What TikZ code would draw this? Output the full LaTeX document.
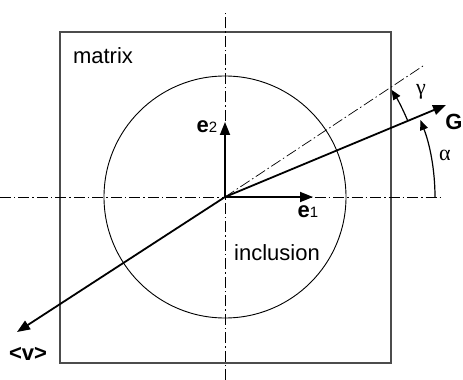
\documentclass[tikz,border=0pt]{standalone}
\usepackage{fontspec}
\setmainfont{Liberation Sans}
\newfontfamily\greekfont{Liberation Serif}
\usetikzlibrary{arrows.meta}

\begin{document}
\begin{tikzpicture}[x=1pt,y=1pt,
  axisline/.style={black,line width=0.9pt,dash pattern=on 11pt off 3pt on 1.5pt off 3pt},
  vecarrow/.style={line width=1.8pt,-{Triangle[length=13pt,width=10pt]}},
  anglearc/.style={line width=1.2pt,-{Triangle[length=10pt,width=8pt]}},
  lbl/.style={inner sep=0pt,font=\fontsize{22}{26}\selectfont}]
\path[use as bounding box] (-225,-183) rectangle (238,197);
\draw[black!70,line width=1.3pt] (-165,-166) rectangle (166,165);
\draw[line width=0.9pt] (0,0) circle (121);
\coordinate (O) at (0,0);
\coordinate (axT) at (0,187);
\coordinate (axB) at (0,-183);
\coordinate (axL) at (-225,0);
\coordinate (axR) at (218,0);
\coordinate (dd) at (198,131);
\draw[axisline] (axB) -- (axT);
\draw[axisline] (axL) -- (axR);
\draw[axisline,line width=0.7pt] (O) -- (dd);
\coordinate (e1tip) at (88,0);
\coordinate (e2tip) at (0,75);
\coordinate (Gtip) at (221,92);
\coordinate (vtip) at (-208,-135);
\draw[vecarrow] (O) -- (e1tip);
\draw[vecarrow] (O) -- (e2tip);
\draw[vecarrow] (O) -- (Gtip);
\draw[vecarrow] (O) -- (vtip);
\draw[anglearc] (210,0) arc[start angle=0,end angle=21.5,radius=210];
\draw[anglearc] ({198*cos(22.6)},{198*sin(22.6)}) arc[start angle=22.6,end angle=32.8,radius=198];
\node[lbl] (matrix) at (-122,141) {matrix};
\node[lbl] (inclusion) at (52,-56) {inclusion};
\node[lbl] (e1) at (83,-15) {\textbf{e}\fontsize{15}{18}\selectfont 1};
\node[lbl] (e2) at (-18,70) {\textbf{e}\fontsize{15}{18}\selectfont 2};
\node[lbl] (G) at (229,75) {\textbf{G}};
\node[lbl] (v) at (-197,-157) {\textbf{<v>}};
\node[lbl] (gamma) at (196,105) {\greekfont γ};
\node[lbl] (alpha) at (220,42) {\greekfont α};
\end{tikzpicture}
\end{document}
